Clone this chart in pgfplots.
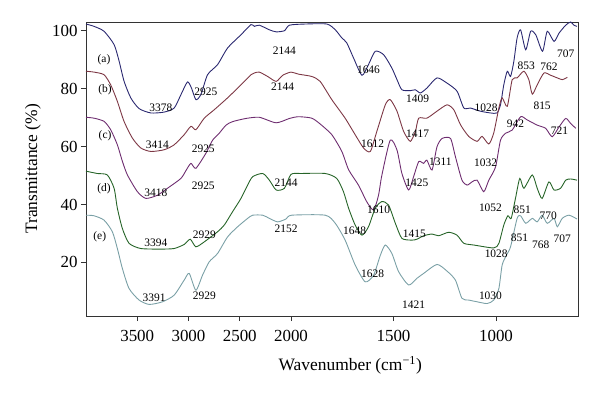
\documentclass[border=0pt]{standalone}
\usepackage{fontspec}
\setmainfont{Liberation Serif}
\usepackage{pgfplots}
\pgfplotsset{compat=1.18}
\definecolor{ca}{RGB}{42,40,112}
\definecolor{cb}{RGB}{125,55,68}
\definecolor{cc}{RGB}{110,45,112}
\definecolor{cd}{RGB}{38,100,40}
\definecolor{ce}{RGB}{122,160,166}
\newcommand{\lab}[3]{\node[font=\fontsize{11.5}{12}\selectfont, inner sep=0pt] at (axis cs:#1,#2) {#3};}
\begin{document}
\begin{tikzpicture}
\begin{axis}[
  scale only axis, width=492bp, height=294bp,
  x coord trafo/.code={\pgfmathparse{max(4000-#1,6000-2*#1)}},
  xmin=4000, xmax=600, ymin=1.5, ymax=103,
  xtick={3500,3000,2500,2000,1500,1000},
  xticklabels={3500,3000,2500,2000,1500,1000},
  ytick={20,40,60,80,100},
  tick align=outside, tick pos=left,
  major tick length=5bp,
  axis line style={black!80, line width=0.8pt},
  every tick/.style={black!80, line width=0.8pt},
  /pgf/number format/assume math mode=true,
  tick label style={font=\fontsize{17}{20}\selectfont},
  xticklabel style={yshift=-6bp},
  every axis x label/.style={at={(axis description cs:0.537,-0.167)}, anchor=center, font=\fontsize{17.5}{20}\selectfont},
  every axis y label/.style={at={(axis description cs:-0.108,0.5)}, rotate=90, anchor=center, font=\fontsize{17.5}{20}\selectfont},
  xlabel={Wavenumber (cm\textsuperscript{−1})},
  ylabel={Transmittance (\%)},
  every axis plot/.append style={line width=0.9pt, smooth, tension=0.4},
]
\coordinate (sw) at (rel axis cs:0,0);
\coordinate (ne) at (rel axis cs:1,1);
% (a)
\addplot[ca] coordinates {
(4000,102.3)(3922,101.5)(3824,99.8)(3726,95.2)(3677,89.5)(3629,82.6)(3563,76.8)(3482,73.1)(3367,71.6)(3237,71.9)(3140,73.3)(3074,77.9)(3010,82.3)(2971,80.2)(2928,76.2)(2879,77.9)(2814,84.8)(2716,88.3)(2619,94.0)(2488,98.6)(2390,102.1)(2358,101.5)(2309,101.9)(2211,100.3)(2145,99.6)(2064,100.0)(2015,101.9)(1931,102.3)(1825,102.3)(1784,100.3)(1752,97.5)(1728,95.8)(1695,90.6)(1654,84.6)(1622,88.3)(1589,92.9)(1548,91.7)(1508,87.1)(1483,83.1)(1459,79.6)(1418,79.3)(1393,79.6)(1369,78.5)(1337,80.2)(1288,83.7)(1239,81.9)(1190,79.1)(1157,73.3)(1125,73.3)(1076,72.2)(1027,71.6)(995,71.6)(978,74.4)(962,81.3)(945,86.0)(929,84.2)(913,89.4)(897,97.5)(880,100.3)(855,93.4)(831,99.8)(806,98.6)(773,92.9)(750,99.8)(717,96.3)(692,99.2)(660,101.9)(636,103)(620,101.9)(605,101.5)
};
% (b)
\addplot[cb] coordinates {
(4000,86.0)(3922,85.7)(3824,84.8)(3759,81.3)(3694,75.6)(3629,68.7)(3547,62.9)(3465,59.5)(3367,58.3)(3237,58.9)(3140,60.6)(3042,64.1)(2976,67.0)(2928,65.8)(2846,69.8)(2749,72.7)(2619,76.8)(2488,81.3)(2390,84.8)(2358,85.4)(2309,85.7)(2228,84.2)(2145,82.5)(2081,84.6)(2000,85.7)(1964,85.0)(1899,84.2)(1858,82.5)(1801,76.2)(1736,69.8)(1687,64.1)(1646,59.5)(1613,58.3)(1581,65.3)(1540,74.4)(1516,76.2)(1483,72.2)(1451,65.3)(1418,61.8)(1393,65.3)(1377,69.8)(1337,69.8)(1288,72.2)(1239,74.4)(1206,72.7)(1173,67.5)(1133,63.5)(1092,61.8)(1068,63.5)(1035,60.9)(1011,64.7)(986,73.3)(970,76.8)(945,73.9)(921,83.1)(897,83.7)(864,86.0)(840,83.1)(823,78.1)(799,81.3)(766,85.4)(733,84.6)(701,83.7)(677,83.1)(652,83.9)
};
% (c)
\addplot[cc] coordinates {
(4000,70.1)(3922,69.8)(3824,68.7)(3759,65.8)(3694,60.6)(3645,54.9)(3596,50.2)(3498,44.4)(3416,42.1)(3303,43.2)(3205,45.6)(3074,49.0)(3020,52.0)(2976,54.2)(2928,52.5)(2830,57.7)(2765,62.2)(2700,64.6)(2634,67.4)(2570,68.6)(2439,69.7)(2309,70.1)(2145,68.2)(2015,69.7)(1964,70.3)(1899,69.8)(1858,67.8)(1801,64.1)(1752,58.3)(1719,52.0)(1671,46.7)(1630,40.9)(1597,38.1)(1573,43.2)(1557,50.0)(1516,62.2)(1483,58.8)(1459,50.7)(1426,45.0)(1402,49.6)(1377,54.8)(1353,54.2)(1337,55.3)(1312,51.9)(1288,59.9)(1263,62.8)(1222,62.8)(1198,56.5)(1166,48.4)(1141,46.7)(1117,47.8)(1092,48.4)(1060,44.4)(1035,48.4)(1002,53.0)(978,62.2)(953,64.6)(921,65.7)(880,70.3)(848,69.2)(799,67.4)(758,66.3)(726,63.4)(692,66.8)(660,69.7)(636,68.0)(611,66.3)
};
% (d)
\addplot[cd] coordinates {
(4000,51.5)(3890,50.7)(3792,50.2)(3726,45.6)(3694,38.7)(3645,31.7)(3580,26.6)(3465,24.8)(3270,24.6)(3140,24.8)(3042,26.2)(2983,28.0)(2928,25.4)(2846,27.1)(2716,30.6)(2651,32.9)(2570,37.5)(2488,42.1)(2423,46.7)(2374,49.6)(2276,50.7)(2211,48.4)(2145,45.0)(2064,45.6)(2000,50.4)(1948,50.7)(1833,50.7)(1777,49.0)(1744,44.4)(1719,38.7)(1687,32.9)(1654,29.4)(1622,32.3)(1589,38.7)(1557,41.0)(1524,39.8)(1491,33.5)(1459,28.3)(1410,27.7)(1386,28.0)(1353,29.2)(1312,29.8)(1280,29.2)(1231,30.4)(1190,29.4)(1157,26.6)(1108,26.0)(1011,25.0)(986,26.6)(962,32.9)(942,36.1)(926,35.2)(905,42.1)(884,49.0)(864,45.6)(823,50.2)(799,45.6)(775,42.1)(742,47.8)(717,45.0)(685,45.6)(660,48.4)(636,48.8)(605,48.4)
};
% (e)
\addplot[ce] coordinates {
(4000,36.3)(3922,36.1)(3824,34.6)(3743,30.6)(3694,24.8)(3645,17.9)(3580,11.0)(3482,7.0)(3384,5.5)(3254,6.4)(3140,8.7)(3042,13.9)(2993,16.2)(2928,10.4)(2863,15.6)(2798,20.2)(2716,23.1)(2619,28.8)(2521,32.3)(2423,35.2)(2374,36.3)(2276,36.3)(2211,35.2)(2130,34.0)(2048,35.0)(1997,36.3)(1833,36.3)(1784,33.5)(1736,27.7)(1687,19.1)(1638,13.3)(1597,15.6)(1564,22.5)(1540,26.0)(1508,23.1)(1475,16.8)(1426,12.2)(1386,14.5)(1353,16.2)(1288,19.3)(1239,17.0)(1198,13.9)(1166,7.6)(1133,7.0)(1092,6.4)(1043,5.8)(1011,7.0)(986,11.0)(970,19.1)(949,22.5)(929,25.4)(897,35.2)(880,36.1)(855,33.5)(823,35.2)(799,34.0)(775,36.3)(750,33.5)(717,35.2)(701,32.3)(677,35.2)(644,36.3)(605,35.0)
};
\lab{3824}{90.1}{(a)}
\lab{3814}{79.5}{(b)}
\lab{3814}{63.6}{(c)}
\lab{3824}{45.3}{(d)}
\lab{3866}{28.8}{(e)}
\lab{3270}{73.5}{3378}
\lab{2830}{78.9}{2925}
\lab{2064}{93.1}{2144}
\lab{2081}{80.7}{2144}
\lab{3303}{60.5}{3414}
\lab{2856}{59.1}{2925}
\lab{3319}{44.2}{3418}
\lab{2856}{46.5}{2925}
\lab{2048}{47.5}{2144}
\lab{3319}{26.8}{3394}
\lab{2846}{29.4}{2929}
\lab{2048}{31.6}{2152}
\lab{3335}{7.9}{3391}
\lab{2846}{8.4}{2929}
\lab{1622}{86.4}{1646}
\lab{1382}{76.6}{1409}
\lab{1048}{73.5}{1028}
\lab{853}{87.9}{853}
\lab{742}{87.6}{762}
\lab{660}{92.0}{707}
\lab{775}{74.0}{815}
\lab{905}{68.0}{942}
\lab{690}{65.4}{721}
\lab{1602}{60.9}{1612}
\lab{1382}{64.3}{1417}
\lab{1271}{54.8}{1311}
\lab{1051}{54.5}{1032}
\lab{1386}{47.5}{1425}
\lab{1573}{38.3}{1610}
\lab{1027}{39.0}{1052}
\lab{872}{38.3}{851}
\lab{745}{36.0}{770}
\lab{1690}{30.8}{1648}
\lab{1398}{30.0}{1415}
\lab{885}{28.5}{851}
\lab{782}{26.2}{768}
\lab{677}{28.3}{707}
\lab{999}{22.9}{1028}
\lab{1602}{16.2}{1628}
\lab{1402}{5.3}{1421}
\lab{1027}{8.4}{1030}
\end{axis}
\path ([shift={(-86bp,-79bp)}]sw) rectangle ([shift={(22bp,22bp)}]ne);
\end{tikzpicture}
\end{document}
